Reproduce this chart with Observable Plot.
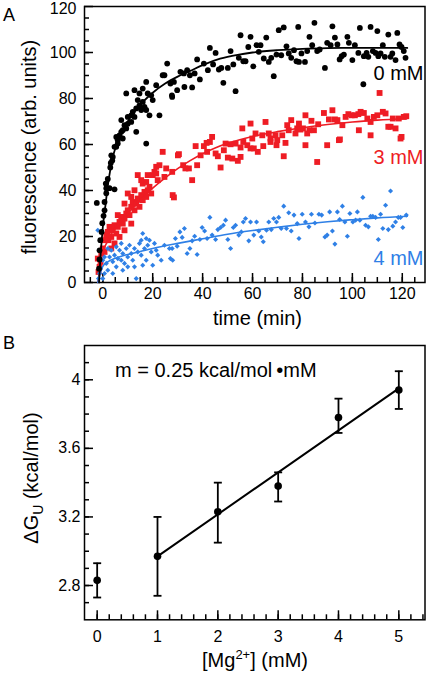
<!DOCTYPE html>
<html><head><meta charset="utf-8">
<script src="https://cdn.jsdelivr.net/npm/d3@7"></script>
<script src="https://cdn.jsdelivr.net/npm/@observablehq/plot@0.6"></script>
<style>
body{margin:0;background:#fff;}
#chart svg{display:block;overflow:visible;}
</style></head><body><div id="chart"></div>
<script>
// ---------- Panel A data: [time (min), fluorescence] ----------
const black0mM = [
[-2.4,34.6],[-1.5,6],[-1.3,10],[-1.3,14],[-1,18.4],[-0.5,22],[-0.2,25.8],[0.3,29],[0.7,31.4],[0.7,35],[1.4,38.8],[1.4,41],[2.7,41],[1.2,43],[2,45],[4.7,40.5],[3,50],[3.8,53],[3.2,52],
[4,54.6],[4.7,59],[6,60.4],[5.4,63.3],[6.7,64],[8,66.2],[9.4,67],[7.4,70.6],[10,69],[8.7,68.4],[11.4,72.7],[12,74.2],[12.7,72],[13.4,75.7],[14,79.3],[14.7,77],[16,78.5],[15.4,75],[16.7,76.3],[17.4,75],[18.7,72.7],[13.4,65.5],[17.4,60.4],[9.4,82.2],[12.7,83.6],[14.7,82.2],[16,84.3],[17.4,87.2],[18,82.2],[19.4,81.4],[20,79.3],[21.4,85.8],[22.7,72.7],[24,90.1],[24.7,90.1],[25.8,95.2],[27.7,81.4],[27.1,86.5],[8,62.6],[5.4,59],[3.4,55.3],[10,72],[11.4,69.8],[7.4,65.5],[6,61.9],
[27.8,80.7],[29.8,83.6],[32.7,85],[35.8,84.8],[28.5,87.2],[31.1,91.6],[32.5,90.9],[33.8,92.3],[34.9,90.1],[36.8,90.9],[37.8,97],[38.9,88.3],[40.5,95.2],[42.1,92.3],[42.9,102],[44.2,94.8],[45.2,99.8],[46.5,92.6],[47.5,93.3],[48.3,86.8],[50.1,93.3],[51.2,100.6],[52.3,94.8],[53.2,83.2],[54.5,97.7],[55.2,107.5],[56.3,96.2],[57.2,96.2],[58.3,102.4],[59.2,106.8],[60.3,94],[61.6,103.2],[62.5,100.3],[63.2,103.2],[64.5,97.4],[65.5,106.5],[66.5,95.9],[67.5,97.7],[68.5,89.7],[69.6,99.1],[70.5,109.7],[71.5,98.8],[72.5,110.9],[73.6,102.7],[74.5,99.6],[75.5,97.7],[76.6,101],[77.6,96.2],[78.3,111.1],
[79.6,99.6],[78.6,95.9],[81,95.9],[81.9,100.6],[82.8,106.8],[83.9,103.2],[84.8,112.9],[85.9,100.6],[86.9,101.3],[89,93.3],[89.9,104.2],[91.3,103.2],[92,111.4],[93,106.5],[94,103.5],[94.9,97],[95.7,98.4],[96.6,99.1],[98,106.8],[98.6,104.2],[100,96.7],[101,103.2],[102.4,99.8],[103,110.7],[104.6,98.4],[105.7,99.8],[106.4,98.1],[104.4,86.2],[107.3,111.1],[108.2,100.6],[109.3,99.8],[110,109.3],[110.4,98.4],[111.3,99.6],[112.2,103.2],[113,98.1],[114.4,107.8],[115.3,98.1],[116,99.6],[117.3,96.7],[118,108.5],[118.9,103.5],[119.7,102.4],[120.6,100.6],[121.3,97.7]
];
const red3mM = [
[-2,10.4],[-1.3,6.8],[-1.7,4.6],[-0.9,9],[-0.6,12.6],[0,14.8],[0.7,18.4],[1.4,20.6],[2,22],[2.7,24.2],[3.4,19.8],[2.3,18.4],[4,22.7],[4.7,24.9],[5.4,21.3],[6,24.2],[6.7,26.3],[7.4,28.5],[8,25.6],[8.7,27.8],[9.4,30],[10,31.4],[10.7,29.3],[11.4,32.9],[12,35],[12.7,31.4],[13.4,34.3],[14,36.5],[14.7,32.9],[15.4,38],[16,35.8],[16.7,39.4],[17.4,37.2],[18,40.1],[18.7,41.6],[19.4,38.7],[15.4,44.5],[14,46.7],[16,43],[17.4,43.7],[18,46.7],[20,46.7],[20.7,48.1],[21.4,50.3],[22.7,51],[21.4,47.4],[22,44.5],[24.7,45.9],[25.4,49.6],[28,38],[8.7,34.3],[10,38.7],[11.4,37.2],[12.7,40.1],[6,29.3],[6.7,19.8],[4.7,17],[3.4,14.8],[0.7,13.3],[8.7,22.7],[11.4,25.6],
[24,56.8],[30.5,55.8],
[27.8,48.1],[30.1,55.3],[32.2,51],[33.1,49.6],[34.5,49.6],[35.8,44.5],[37.8,51],[39.2,55.3],[40.5,59.3],[41.8,56.8],[42.9,61.1],[45.2,56.1],[46.1,54.9],[47.2,50],[48.5,57.5],[49.2,60.4],[50.1,54.3],[51.9,53.9],[53.2,60.4],[54.1,52.9],[55.2,58.7],[56.3,61.1],[57.9,59.7],[59.2,58.3],[60.5,58.3],[62.1,56.8],[64.3,59.3],[67.2,61.1],[69.6,59.7],[72.5,54.9],[73.2,60.7],[28.5,37],
[37.2,59.3],[41.6,60.7],[43.8,63.3],[51.2,60.1],[55.9,67],[59.2,69.1],[59.9,62.6],[61.2,64.8],[65.2,69.8],[63.9,64],[66.5,64.8],[67.2,62.6],[69.2,64],[69.9,61.9],[71.9,64],[73.9,68.4],[74.5,66.2],[75.5,70.6],[77.2,64.8],[77.9,67],[78.6,69.1],
[79.2,66.5],[80.2,67],[81.2,72.7],[82.8,66.2],[83.6,70.3],[84.6,66.2],[86.3,68.8],[88.6,73.7],[90.6,70.9],[92,74.9],[93,70.9],[94,70.6],[96,68.4],[97.3,72],[98.4,73.2],[99.7,72.7],[101,72.7],[102.4,73.2],[103.3,74.2],[104.6,73.7],[106,71.3],[107.3,69.8],[108.6,72],[110,72.7],[110.9,82.4],[112.2,74.2],[113.3,73.5],[114.4,67.7],[115.3,67.7],[116.2,71.3],[117.3,67],[118.6,71.3],[119.7,63.3],[120.6,72],[121.6,72.3],[94.6,61.9],[89.9,59.7],[81.9,64.8],[102.6,66.2],
[81.2,59.7],[85.9,52.4],[55.2,54.6],[95,62.2],[107.3,64],[119.3,62.6]
];
const blue4mM = [
[-2,22.7],[-1.7,1.7],[-1.3,3.9],[-0.9,6.1],[0,9.7],[0.7,11.1],[1.4,8.3],[2,5.3],[2.7,11.1],[3.4,14],[4,9],[4.7,11.9],[5.4,6.8],[6,10.4],[6.7,14],[7.4,9.7],[8,12.6],[8.7,8.3],[9.4,14.8],[10,11.1],[10.7,16.2],[11.4,12.6],[12,9.7],[12.7,14.8],[13.4,1.7],[14,13.3],[14.7,17],[15.4,11.9],[16,21.3],[16.7,14.8],[17.4,9.7],[18,16.2],[18.7,18.4],[19.4,13.3],[7.4,17],[5.4,15.5],[2,14.8],[10,6.8],[12.7,6.8],[16,7.5],[0.7,3.9],[4,3.9],[0,1.7],[8,5.3],[15.4,18.4],[17.4,19.1],[20,7.5],[20.7,17],[21.4,14],[22,11.9],[23.4,9.7],[24.7,16.2],[26.7,14.8],[28,9.7],
[27.1,10.4],[27.8,14.8],[29.1,19.1],[29.8,15.8],[30.9,22],[31.8,19.6],[32.7,23.5],[33.8,12.6],[34.9,14.8],[35.8,18.1],[36.8,20.1],[37.8,12.2],[38.9,18.7],[39.8,23.9],[40.8,22.4],[41.8,19.1],[42.9,28.3],[43.8,20.6],[45.2,18.7],[46.1,23],[47.2,23.9],[48.3,24.9],[49.2,27.1],[50.1,18.7],[51.2,14.8],[52.3,23.9],[53.2,24.9],[54.5,20.6],[55.5,22],[56.3,26.3],[57.2,27.8],[58.5,18.1],[59.2,26.3],[60.5,20.6],[61.6,26.3],[62.5,22.4],[63.5,19.8],[64.3,17.7],[65.6,22.7],[66.5,26.3],[67.5,23],[68.5,27.8],[69.6,26.3],[70.5,28.3],[71.5,23.5],[72.5,33.2],[73.6,23.5],[74.5,30.3],[75.5,22.4],[76.6,29.3],[78.6,19.1],
[77.9,25.6],[79.9,29.7],[81.2,26.3],[82.6,24.2],[83.6,29.7],[85,25.9],[86.6,29.7],[87.7,29.3],[89,19.8],[89.9,20.6],[90.9,30.7],[92,22.4],[93,16.7],[94,30.7],[94.9,27.4],[96,33.2],[97,26.3],[98,20.1],[99,30],[100.2,26.3],[101.3,27.1],[102,30.7],[103,27.1],[104.2,37],[105.3,24.9],[106.4,24.2],[107.3,28.8],[108.2,28.8],[109.3,28.3],[110.4,18.7],[111.3,29.7],[112.2,23.5],[113.3,33.6],[114.4,23],[115.3,39.8],[116.2,24.5],[117.3,26.3],[118.4,28.3],[119.3,28.3],[120.2,23.9],[121.6,29.3]
];
// fitted curves
const fit0mM = [[-1.5,0],[-1,10],[-0.5,17.5],[0,24],[1,33],[2,42],[3,49],[4,54.5],[6,61],[8,66],[10,70],[14,76],[20,82.5],[25,86.5],[30,89.5],[35,92],[40,94.5],[47,97.3],[54,99],[60,100],[70,101],[80,101.6],[90,101.9],[100,102],[122,102]];
const fit3mM = [[-2,0],[-1,7],[0,13],[2,18],[4,22],[6,25],[10,30],[15,35.5],[20,41],[25,45.5],[30,49.5],[35,53],[40,56],[45,58.5],[50,60.5],[60,63.5],[70,65.6],[80,67.3],[90,68.7],[100,69.8],[110,70.6],[122,71.3]];
const fit4mM = [[-2,0],[-1,4],[0,7],[2,9],[5,10.5],[10,12.2],[15,13.5],[20,14.8],[30,17],[40,19],[50,21],[60,22.6],[70,24],[80,25.3],[90,26.4],[100,27.3],[110,28.1],[122,28.8]];
const seriesNames = ["0 mM", "3 mM", "4 mM"];
const seriesLabelY = [90.9, 54.3, 10.4];

const xTicksA = [-5,0,5,10,15,20,25,30,35,40,45,50,55,60,65,70,75,80,85,90,95,100,105,110,115,120,125];
const xLabelsA = [0,20,40,60,80,100,120];
const yTicksA = [5,10,15,20,25,30,35,40,45,50,55,60,65,70,75,80,85,90,95,100,105,110,115];
const yLabelsA = [0,20,40,60,80,100];
const yTopLabelA = [120];

// ---------- Panel B data ----------
const mgConc = [0,1,2,3,4,5];
const deltaG = [2.83,2.97,3.23,3.38,3.78,3.94];
const errLow = [2.73,2.74,3.05,3.29,3.69,3.83];
const errHigh = [2.93,3.20,3.40,3.46,3.89,4.05];
const fitMg = [1,5];
const fitDG = [2.97,3.95];
const xTicksB = [0,0.2,0.4,0.6,0.8,1,1.2,1.4,1.6,1.8,2,2.2,2.4,2.6,2.8,3,3.2,3.4,3.6,3.8,4,4.2,4.4,4.6,4.8,5,5.2,5.4];
const xLabelsB = [0,1,2,3,4,5];
const yTicksB = [2.7,2.8,2.9,3.0,3.1,3.2,3.3,3.4,3.5,3.6,3.7,3.8,3.9,4.0,4.1];
const yLabelsB = [2.8,3.2,3.6,4];

const RED = "#ee1c24", BLUE = "#2f80e6", BLACK = "#000";
const FONT = "'Liberation Sans', Arial, Helvetica, sans-serif";
const T = d => d[0], V = d => d[1];

const chartA = Plot.plot({
  width: 429, height: 330,
  marginTop: 6, marginRight: 4.5, marginBottom: 48, marginLeft: 84,
  style: {fontFamily: FONT, fontSize: "16px", color: "black", background: "white", overflow: "visible"},
  x: {domain: [-7.33, 129.1]},
  y: {domain: [0, 120]},
  marks: [
    Plot.axisX(xTicksA, {tickSize: -5, fill: "none", strokeWidth: 1.5}),
    Plot.axisX(xLabelsA, {tickSize: -9, fill: "none", strokeWidth: 1.5}),
    Plot.axisX(xLabelsA, {tickSize: 0, tickPadding: 5, label: null}),
    Plot.axisY(yTicksA, {tickSize: -5, fill: "none", strokeWidth: 1.5}),
    Plot.axisY([...yLabelsA, ...yTopLabelA], {tickSize: -9, fill: "none", strokeWidth: 1.5}),
    Plot.axisY(yLabelsA, {tickSize: 0, tickPadding: 8, label: null}),
    Plot.axisY(yTopLabelA, {tickSize: 0, tickPadding: 8, label: null, dy: 2}),
    Plot.frame({stroke: BLACK, strokeWidth: 1.5}),
    Plot.dot(red3mM, {x: T, y: V, symbol: "square", fill: RED, r: 3.3}),
    Plot.line(fit3mM, {x: T, y: V, stroke: RED, strokeWidth: 1.6, curve: "monotone-x"}),
    Plot.dot(blue4mM, {x: T, y: V, symbol: "diamond2", fill: BLUE, r: 2.3}),
    Plot.line(fit4mM, {x: T, y: V, stroke: BLUE, strokeWidth: 1.6, curve: "monotone-x"}),
    Plot.dot(black0mM, {x: T, y: V, symbol: "circle", fill: BLACK, r: 2.9}),
    Plot.line(fit0mM, {x: T, y: V, stroke: BLACK, strokeWidth: 1.8, curve: "monotone-x"}),
    Plot.text(seriesNames, {frameAnchor: "right", dx: -1.5, y: (d, i) => seriesLabelY[i], text: d => d,
      textAnchor: "end", fontSize: 20, fill: (d, i) => [BLACK, RED, BLUE][i]})
  ]
});

const panelB = mgConc.map((m, i) => ({m, g: deltaG[i], lo: errLow[i], hi: errHigh[i]}));
const fitB = fitMg.map((m, i) => ({m, g: fitDG[i]}));
const capSymbol = {draw(ctx, size) { const r = Math.sqrt(size / Math.PI); ctx.moveTo(-r, 0); ctx.lineTo(r, 0); }};

const chartB = Plot.plot({
  width: 429, height: 344,
  marginTop: 15, marginRight: 4.5, marginBottom: 54.7, marginLeft: 84,
  style: {fontFamily: FONT, fontSize: "16px", color: "black", background: "white"},
  x: {domain: [-0.21, 5.434]},
  y: {domain: [2.6, 4.2]},
  marks: [
    Plot.axisX(xTicksB, {tickSize: -5, fill: "none", strokeWidth: 1.5}),
    Plot.axisX(xLabelsB, {tickSize: -9, fill: "none", strokeWidth: 1.5}),
    Plot.axisX(xLabelsB, {tickSize: 0, tickPadding: 11, label: null}),
    Plot.axisY(yTicksB, {tickSize: -5, fill: "none", strokeWidth: 1.5}),
    Plot.axisY(yLabelsB, {tickSize: -9, fill: "none", strokeWidth: 1.5}),
    Plot.axisY(yLabelsB, {tickSize: 0, tickPadding: 4, label: null, tickFormat: d => String(d)}),
    Plot.frame({stroke: BLACK, strokeWidth: 1.5}),
    Plot.line(fitB, {x: "m", y: "g", stroke: BLACK, strokeWidth: 2}),
    Plot.ruleX(panelB, {x: "m", y1: "lo", y2: "hi", stroke: BLACK, strokeWidth: 1.8}),
    Plot.dot(panelB, {x: "m", y: "lo", symbol: capSymbol, r: 4, fill: "none", stroke: BLACK, strokeWidth: 1.8}),
    Plot.dot(panelB, {x: "m", y: "hi", symbol: capSymbol, r: 4, fill: "none", stroke: BLACK, strokeWidth: 1.8}),
    Plot.dot(panelB, {x: "m", y: "g", symbol: "circle", r: 3.8, fill: BLACK})
  ]
});

const root = document.getElementById("chart");
root.appendChild(chartA);
root.appendChild(chartB);

// titles and panel letters
function addText(sel, x, y, size, anchor, str) {
  return sel.append("text").attr("x", x).attr("y", y).attr("font-size", size)
    .attr("font-family", FONT).attr("text-anchor", anchor).attr("fill", "black").text(str);
}
const sA = d3.select(chartA);
addText(sA, 3, 21, 18, "start", "A");
addText(sA, 257.5, 325, 20, "middle", "time (min)");
sA.append("text").attr("transform", "translate(36,147) rotate(-90)").attr("text-anchor", "middle")
  .attr("font-size", 20).attr("font-family", FONT).attr("fill", "black").text("fluorescence (arb. units)");

const sB = d3.select(chartB);
addText(sB, 3, 19, 18, "start", "B");
addText(sB, 115, 47, 20, "start", "m = 0.25 kcal/mol\u2009\u2022mM");
const yt = sB.append("text").attr("transform", "translate(38,148) rotate(-90)").attr("text-anchor", "middle")
  .attr("font-size", 20).attr("font-family", FONT).attr("fill", "black");
yt.append("tspan").text("\u0394G");
yt.append("tspan").attr("dy", 5).attr("font-size", 14).text("U");
yt.append("tspan").attr("dy", -5).text(" (kcal/mol)");
const xt = sB.append("text").attr("x", 255).attr("y", 337).attr("text-anchor", "middle")
  .attr("font-size", 20).attr("font-family", FONT).attr("fill", "black");
xt.append("tspan").text("[Mg");
xt.append("tspan").attr("dy", -8).attr("font-size", 13).text("2+");
xt.append("tspan").attr("dy", 8).text("] (mM)");
</script></body></html>
